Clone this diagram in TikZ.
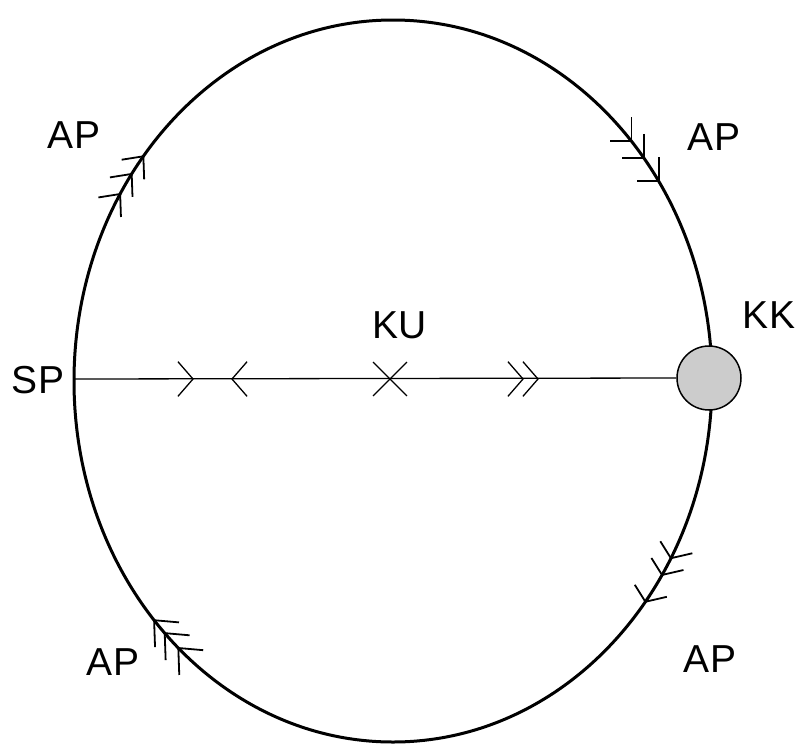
\documentclass[tikz,border=0pt]{standalone}
\usepackage{fontspec}
\setmainfont{Liberation Sans}
\definecolor{kkgray}{RGB}{204,204,204}
\begin{document}
\begin{tikzpicture}[x=1pt,y=-1pt,
  lbl/.style={font=\fontsize{39}{47}\selectfont, anchor=base, inner sep=0pt},
  rim/.style={line width=3pt},
  axis/.style={line width=1.3pt},
  chev/.style={line width=1.8pt},
  axmark/.style={line width=1.3pt}]
\useasboundingbox (0,0) rectangle (798,745);
% ellipse
\draw[rim] (393,381) ellipse [x radius=319pt, y radius=361pt];
% nodes
\node[circle, draw, line width=1.5pt, fill=kkgray, minimum size=64pt, inner sep=0pt] (KKc) at (709,378) {};
\coordinate (SPpt) at (74,379);
\coordinate (KUx) at (390,379);
\draw[axis] (SPpt) -- (KKc.west);
\node[lbl] (SP) at (38,393) {SP};
\node[lbl] (KU) at (400,338) {KU};
\node[lbl] (KK) at (769,328) {KK};
\node[lbl] (AP1) at (74,148) {AP};
\node[lbl] (AP2) at (714,150) {AP};
\node[lbl] (AP3) at (710,672) {AP};
\node[lbl] (AP4) at (113,675) {AP};
% marks on the axis
\coordinate (c1) at (193,379);
\coordinate (c2) at (232,379);
\coordinate (c3) at (523,379);
\coordinate (c4) at (538,379);
\draw[axmark] (c1) ++(131:23pt) -- (c1) -- ++(229:23pt);
\draw[axmark] (c2) ++(49:23pt) -- (c2) -- ++(-49:23pt);
\draw[axmark] (c3) ++(131:23pt) -- (c3) -- ++(229:23pt);
\draw[axmark] (c4) ++(131:23pt) -- (c4) -- ++(229:23pt);
\draw[axmark] (KUx) ++(45:24pt) -- ++(225:48pt);
\draw[axmark] (KUx) ++(135:24pt) -- ++(315:48pt);
% chevrons on the rim
\foreach \t in {141.5,145,148.8}{
  \coordinate (p) at ({393+319*cos(\t)},{381-361*sin(\t)});
  \draw[chev] (p) ++(189:22pt) -- (p) -- ++(272:23pt);
}
\foreach \t in {41.6,38.2,33.6}{
  \coordinate (p) at ({393+319*cos(\t)},{381-361*sin(\t)});
  \draw[chev] (p) ++(90:24pt) -- (p) -- ++(180:22pt);
}
\foreach \t in {-29.4,-32.5,-37.7}{
  \coordinate (p) at ({393+319*cos(\t)},{381-361*sin(\t)});
  \draw[chev] (p) ++(122:20pt) -- (p) -- ++(13:22pt);
}
\foreach \t in {221.5,224.3,227.7}{
  \coordinate (p) at ({393+319*cos(\t)},{381-361*sin(\t)});
  \draw[chev] (p) ++(-5:25pt) -- (p) -- ++(272:27pt);
}
\end{tikzpicture}
\end{document}
